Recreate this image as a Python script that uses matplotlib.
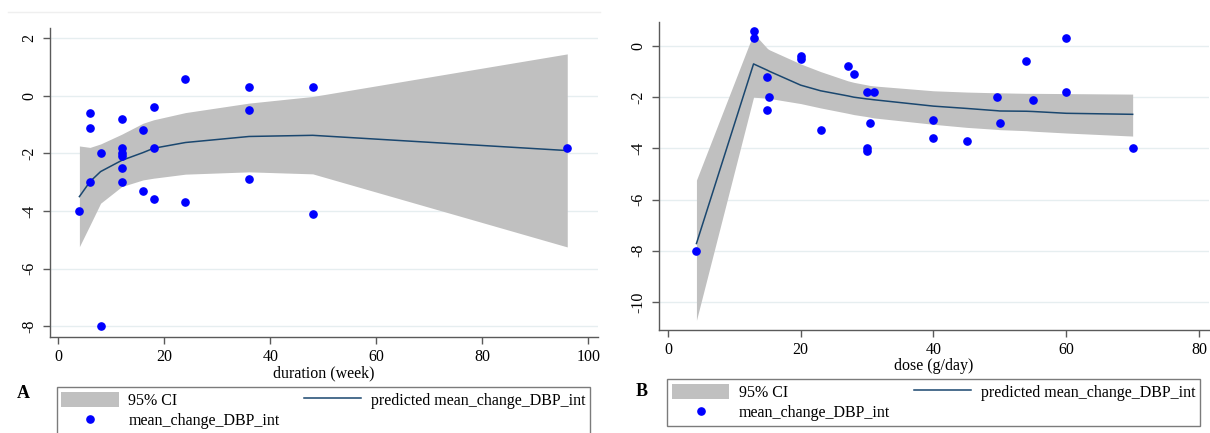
"""
plot.py
Fractional polynomial fit of mean change in DBP vs duration (A) and dose (B)
"""

import matplotlib.pyplot as plt
from matplotlib.lines import Line2D
from matplotlib.patches import Patch

plt.rcParams["font.family"] = ["Liberation Serif", "DejaVu Serif"]
plt.rcParams["axes.unicode_minus"] = False

# ============================================================
# data: panel A (duration, week)
# ============================================================
dur_x = [4, 6, 6, 6, 8, 8, 12, 12, 12, 12, 12, 12, 16, 16, 18, 18, 18,
         24, 24, 36, 36, 36, 48, 48, 96]
dur_y = [-4.0, -0.6, -1.1, -3.0, -2.0, -8.0, -0.8, -1.8, -2.0, -2.1, -2.5, -3.0,
         -1.2, -3.3, -0.4, -1.8, -3.6, 0.6, -3.7, 0.3, -0.5, -2.9, 0.3, -4.1, -1.8]

dur_fit_x = [4, 6, 8, 12, 16, 18, 24, 36, 48, 96]
dur_fit = [-3.50, -2.98, -2.63, -2.24, -1.97, -1.82, -1.62, -1.41, -1.37, -1.90]
dur_hi = [-1.74, -1.79, -1.67, -1.33, -0.95, -0.83, -0.58, -0.25, -0.02, 1.46]
dur_lo = [-5.24, -4.49, -3.73, -3.15, -2.92, -2.86, -2.72, -2.64, -2.71, -5.25]

dur_xticks = [0, 20, 40, 60, 80, 100]
dur_yticks = [2, 0, -2, -4, -6, -8]

# ============================================================
# data: panel B (dose, g/day)
# ============================================================
dose_x = [4.3, 12.9, 12.9, 15, 15, 15.3, 20, 20, 23, 27.1, 28, 30, 31, 30.4,
          30, 30, 40, 40, 45, 49.6, 50, 54, 55, 60, 60, 70]
dose_y = [-8.0, 0.6, 0.3, -1.2, -2.5, -2.0, -0.4, -0.5, -3.3, -0.8, -1.1, -1.8,
          -1.8, -3.0, -4.0, -4.1, -2.9, -3.6, -3.7, -2.0, -3.0, -0.6, -2.1, 0.3,
          -1.8, -4.0]

dose_fit_x = [4.3, 12.9, 15, 15.3, 20, 23, 27.1, 28, 30, 30.4, 31, 40, 45,
              49.6, 50, 54, 55, 60, 70]
dose_fit = [-7.72, -0.70, -0.95, -0.99, -1.53, -1.75, -1.95, -2.00, -2.07, -2.08,
            -2.10, -2.35, -2.44, -2.53, -2.54, -2.55, -2.56, -2.63, -2.67]
dose_hi = [-5.24, 0.50, -0.10, -0.15, -0.70, -1.00, -1.36, -1.42, -1.52, -1.54,
           -1.56, -1.75, -1.80, -1.83, -1.83, -1.85, -1.85, -1.86, -1.88]
dose_lo = [-10.72, -2.00, -2.04, -2.05, -2.25, -2.42, -2.63, -2.68, -2.76, -2.78,
           -2.81, -3.06, -3.18, -3.26, -3.27, -3.31, -3.33, -3.40, -3.52]

dose_xticks = [0, 20, 40, 60, 80]
dose_yticks = [0, -2, -4, -6, -8, -10]

CI_COLOR = "#c0c0c0"
LINE_COLOR = "#1a476f"
DOT_COLOR = "#0000ff"
AXIS_COLOR = "#5a5a5a"
GRID_COLOR = "#e6eef0"

W, H = 1210, 433


def px_rect(x0, y0, x1, y1):
    """pixel box (top-left origin) -> figure fraction [l, b, w, h]"""
    return [x0 / W, 1 - y1 / H, (x1 - x0) / W, (y1 - y0) / H]


def draw_panel(fig, rect, px, py, fx, fit, lo, hi, xticks, yticks, xlim, ylim,
               xlabel, letter, letter_xy, legend_box):
    ax = fig.add_axes(rect)
    ax.fill_between(fx, lo, hi, color=CI_COLOR, linewidth=0, zorder=2)
    ax.plot(fx, fit, color=LINE_COLOR, linewidth=1.1, zorder=3)
    ax.plot(px, py, "o", color=DOT_COLOR, markersize=5.2, zorder=4)

    ax.set_xlim(*xlim)
    ax.set_ylim(*ylim)
    ax.set_xticks(xticks)
    ax.set_yticks(yticks)
    for v in yticks:
        ax.axhline(v, color=GRID_COLOR, linewidth=1.0, zorder=1)

    for s in ("top", "right"):
        ax.spines[s].set_visible(False)
    for s in ("left", "bottom"):
        ax.spines[s].set_color(AXIS_COLOR)
        ax.spines[s].set_linewidth(1.0)
    ax.tick_params(direction="out", length=5, width=1.0, color=AXIS_COLOR,
                   labelsize=11.5, pad=4)
    for lab in ax.get_yticklabels():
        lab.set_rotation(90)
        lab.set_va("center")
    ax.set_xlabel(xlabel, fontsize=11.5, labelpad=0)

    handles = [
        Patch(facecolor=CI_COLOR, edgecolor="none", label="95% CI"),
        Line2D([], [], marker="o", linestyle="none", color=DOT_COLOR,
               markersize=5.2, label="mean_change_DBP_int"),
        Line2D([], [], color=LINE_COLOR, linewidth=1.1,
               label="predicted mean_change_DBP_int"),
    ]
    leg = fig.legend(handles=handles, ncol=2, loc="upper left",
                     bbox_to_anchor=legend_box, mode="expand",
                     borderaxespad=0, fontsize=11.5, frameon=True,
                     fancybox=False, handlelength=3.6, handleheight=1.1,
                     handletextpad=0.6, labelspacing=0.2, borderpad=0.3)
    leg.get_frame().set_edgecolor(AXIS_COLOR)
    leg.get_frame().set_linewidth(1.0)

    fig.text(letter_xy[0] / W, 1 - letter_xy[1] / H, letter, fontsize=13,
             fontweight="bold", ha="left", va="center")
    return ax


fig = plt.figure(figsize=(W / 100, H / 100), dpi=100)
fig.patch.set_facecolor("white")

# faint border line at top of left panel image
fig.add_artist(Line2D([8 / W, 600 / W], [1 - 12 / H, 1 - 12 / H],
                      color="#efefef", linewidth=1.0))

draw_panel(fig, px_rect(49.7, 28.3, 598, 336.7), dur_x, dur_y,
           dur_fit_x, dur_fit, dur_lo, dur_hi, dur_xticks, dur_yticks,
           (-1.6, 101.8), (-8.37, 2.35), "duration (week)", "A", (17, 393),
           px_rect(56.6, 387, 590, 437))

draw_panel(fig, px_rect(659, 21.7, 1209, 330), dose_x, dose_y,
           dose_fit_x, dose_fit, dose_lo, dose_hi, dose_xticks, dose_yticks,
           (-1.34, 81.5), (-11.1, 0.95), "dose (g/day)", "B", (636, 391),
           px_rect(667, 379, 1200, 429))

fig.savefig("out.png", dpi=100)
